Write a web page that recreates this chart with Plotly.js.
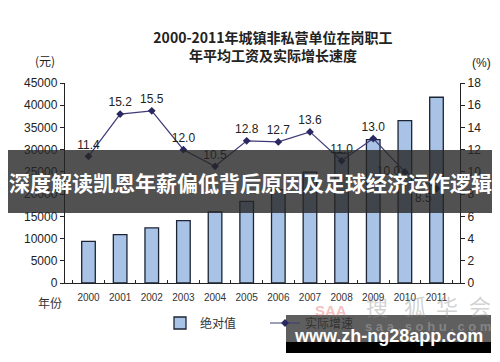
<!DOCTYPE html>
<html>
<head>
<meta charset="utf-8">
<script src="https://cdn.plot.ly/plotly-3.0.1.min.js"></script>
<style>html,body{margin:0;padding:0;background:#fff}#chart{width:500px;height:362px}</style>
</head>
<body>
<div id="chart"></div>
<script>
var years = ['2000','2001','2002','2003','2004','2005','2006','2007','2008','2009','2010','2011'];
var wages = [9371, 10870, 12422, 14040, 16024, 18364, 21001, 24932, 29229, 32244, 36539, 41799];
var growth = [11.4, 15.2, 15.5, 12.0, 10.5, 12.8, 12.7, 13.6, 11.0, 13.0, 10.0, 8.5];
var seriesNames = ['绝对值', '实际增速'];
var labelPos = ['top center','top center','top center','top center','top center','top center',
                'top center','top center','top center','top center','middle left','bottom left'];

var CJK = '"Noto Sans CJK SC", "Noto Sans", sans-serif';
var NUM = '"Liberation Sans", Arial, sans-serif';

var traces = [
  {
    type: 'bar', name: seriesNames[0], x: years, y: wages,
    width: 0.43,
    marker: {color: '#a9c3e6', line: {color: '#1c2436', width: 1.3}},
    hoverinfo: 'none'
  },
  {
    type: 'scatter', mode: 'lines+markers+text', name: seriesNames[1],
    x: years, y: growth, yaxis: 'y2',
    line: {color: '#3e3a78', width: 1.2},
    marker: {symbol: 'diamond', size: 6, color: '#2a2860'},
    texttemplate: '%{y:.1f}', textposition: labelPos,
    textfont: {family: NUM, size: 12, color: '#222'},
    cliponaxis: false, hoverinfo: 'none'
  }
];

function px(x){ return (x - 65) / 395; }
function py(y){ return (283 - y) / 200; }
function note(text, x, y, font){
  return {text: text, xref: 'paper', yref: 'paper', x: px(x), y: py(y),
          xanchor: 'center', yanchor: 'middle', showarrow: false, font: font};
}

var layout = {
  width: 500, height: 362,
  margin: {l: 65, r: 40, t: 83, b: 79},
  paper_bgcolor: '#fff', plot_bgcolor: '#fff',
  showlegend: true,
  title: {
    text: '2000-2011年城镇非私营单位在岗职工<br>年平均工资及实际增长速度',
    font: {family: CJK, size: 14, color: '#222', weight: 'bold'},
    x: 0.546, xanchor: 'center', y: 1 - 43/362, yanchor: 'top'
  },
  xaxis: {
    type: 'category', showline: true, linecolor: '#222', linewidth: 1.2,
    ticks: 'inside', tickson: 'boundaries', ticklen: 3, tickcolor: '#222',
    tickangle: 0, ticklabelstandoff: 5,
    tickfont: {family: NUM, size: 10, color: '#333'},
    showgrid: false, zeroline: false, fixedrange: true
  },
  yaxis: {
    range: [0, 45000], dtick: 5000, tickformat: 'd', showline: true, linecolor: '#222', linewidth: 1.2,
    ticks: 'outside', ticklen: 4, tickcolor: '#222',
    tickfont: {family: NUM, size: 12, color: '#222'},
    showgrid: false, zeroline: false, fixedrange: true
  },
  yaxis2: {
    overlaying: 'y', side: 'right', range: [0, 18], dtick: 2,
    showline: true, linecolor: '#222', linewidth: 1.2,
    ticks: 'outside', ticklen: 4, tickcolor: '#222',
    tickfont: {family: NUM, size: 12, color: '#222'},
    showgrid: false, zeroline: false, fixedrange: true
  },
  legend: {
    orientation: 'h', xref: 'paper', yref: 'paper',
    x: px(160), xanchor: 'left', y: py(323), yanchor: 'middle',
    entrywidth: 60, entrywidthmode: 'pixels',
    font: {family: CJK, size: 12, color: '#333'},
    bgcolor: 'rgba(0,0,0,0)', traceorder: 'normal'
  },
  shapes: [
    {type: 'rect', xref: 'paper', yref: 'paper', layer: 'above',
     x0: px(8), x1: px(492), y0: py(213), y1: py(150),
     fillcolor: 'rgba(38,38,38,0.8)', line: {width: 0}},
    {type: 'rect', xref: 'paper', yref: 'paper', layer: 'above',
     x0: px(286), x1: px(491), y0: py(342), y1: py(315),
     fillcolor: 'rgba(60,60,60,0.82)', line: {width: 0}},
    {type: 'rect', xref: 'paper', yref: 'paper', layer: 'above',
     x0: px(286), x1: px(491), y0: py(353), y1: py(342),
     fillcolor: '#000', line: {width: 0}}
  ],
  annotations: [
    note('(元)', 45, 60, {family: CJK, size: 12, color: '#222'}),
    note('(%)', 481, 63, {family: NUM, size: 12, color: '#222'}),
    note('年份', 50, 302, {family: CJK, size: 12, color: '#333'}),
    note('搜', 377, 305, {family: CJK, size: 22, color: 'rgba(140,140,140,0.4)'}),
    note('狐', 415, 305, {family: CJK, size: 22, color: 'rgba(140,140,140,0.4)'}),
    note('华', 447, 305, {family: CJK, size: 22, color: 'rgba(140,140,140,0.4)'}),
    note('会', 480, 305, {family: CJK, size: 22, color: 'rgba(140,140,140,0.4)'}),
    note('SAA', 331, 310, {family: NUM, size: 15, color: 'rgba(230,90,90,0.4)', weight: 'bold'}),
    note('s a a . s o h u . c o m', 428, 326, {family: NUM, size: 13, color: 'rgba(170,170,170,0.5)', weight: 'bold'}),
    note('深度解读凯恩年薪偏低背后原因及足球经济运作逻辑', 250, 182,
         {family: CJK, size: 21, color: '#ffffff', weight: 'bold'}),
    note('www.zh-ng28app.com', 388, 336, {family: NUM, size: 18, color: '#ffffff', weight: 'bold'})
  ]
};

Plotly.newPlot('chart', traces, layout, {staticPlot: true, displayModeBar: false});
</script>
</body>
</html>
